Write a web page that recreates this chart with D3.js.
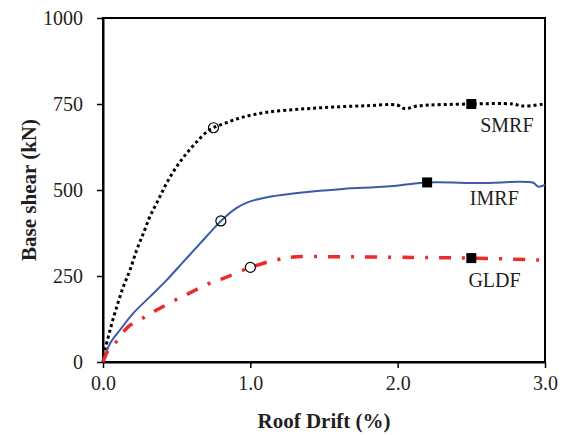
<!DOCTYPE html>
<html>
<head>
<meta charset="utf-8">
<script src="https://cdn.jsdelivr.net/npm/d3@7"></script>
<style>
    body { margin: 0; background: #fff; }
    svg text { font-family: 'Liberation Serif', 'Times New Roman', serif !important; fill: #231f20; }
</style>
</head>
<body>
<script>
// Pushover curves: roof drift (%) vs base shear (kN)
const smrfDrift = [0, 0.014, 0.048, 0.093, 0.138, 0.183, 0.229, 0.274, 0.319, 0.375, 0.432, 0.5, 0.568, 0.636, 0.704, 0.75, 0.84, 0.95, 1.113, 1.337, 1.561, 1.792, 1.996, 2.05, 2.13, 2.5, 2.78, 2.85, 3.0];
const smrfShear = [0, 35, 93, 160, 219, 267, 326, 374, 423, 471, 520, 568, 607, 640, 669, 681, 696, 712, 726, 735, 741, 745, 747, 736, 744, 750, 750, 744, 750];

const imrfDrift = [0, 0.048, 0.115, 0.206, 0.319, 0.432, 0.545, 0.658, 0.749, 0.8, 0.9, 0.98, 1.06, 1.14, 1.337, 1.629, 1.926, 2.2, 2.56, 2.92, 2.953, 3.0];
const imrfShear = [0, 54, 93, 142, 190, 238, 291, 344, 387, 410, 446, 464, 474, 481, 492, 503, 510, 522, 520, 521, 510, 515];

const gldfDrift = [0, 0.036, 0.081, 0.172, 0.269, 0.364, 0.482, 0.59, 0.708, 0.817, 1.0, 1.179, 1.315, 1.561, 2.105, 2.5, 2.93, 2.97];
const gldfShear = [0, 35, 54, 103, 127, 151, 178, 201, 226, 243, 275, 297, 306, 306, 304, 302, 297, 296];

// Yield points (circles) and ultimate points (squares)
const seriesNames = ['SMRF', 'IMRF', 'GLDF'];
const yieldDrift = [0.75, 0.8, 1.0];
const yieldShear = [681, 410, 275];
const ultDrift = [2.5, 2.2, 2.5];
const ultShear = [750, 522, 302];

const xTicks = [0, 1, 2, 3];
const yTicks = [0, 250, 500, 750, 1000];

const width = 569;
const height = 435;
const margin = { top: 18, right: 24, bottom: 73, left: 103 };
const plotW = width - margin.left - margin.right;
const plotH = height - margin.top - margin.bottom;

const xScale = d3.scaleLinear().domain([0, 3]).range([0, plotW]);
const yScale = d3.scaleLinear().domain([0, 1000]).range([plotH, 0]);

const svg = d3
    .select('body')
    .append('svg')
    .attr('width', width)
    .attr('height', height);

const g = svg.append('g').attr('transform', `translate(${margin.left}, ${margin.top})`);

// Set y-axis
const yAxis = g
    .append('g')
    .call(d3.axisLeft(yScale).tickValues(yTicks).tickSize(6).tickSizeOuter(0).tickPadding(14).tickFormat(d3.format('d')));

// Set x-axis
const xAxis = g
    .append('g')
    .attr('transform', `translate(0, ${plotH})`)
    .call(d3.axisBottom(xScale).tickValues(xTicks).tickSize(6).tickSizeOuter(0).tickPadding(8).tickFormat(d3.format('.1f')));

[xAxis, yAxis].forEach(ax => {
    ax.attr('font-family', null);
    ax.select('.domain').attr('stroke', '#000').attr('stroke-width', 2);
    ax.selectAll('.tick line').attr('stroke', '#000').attr('stroke-width', 1.5);
    ax.selectAll('.tick text').style('font-size', '20px').attr('fill', '#231f20');
});

// Plot frame
g
    .append('rect')
    .attr('x', 0)
    .attr('y', 0)
    .attr('width', plotW)
    .attr('height', plotH)
    .attr('fill', 'none')
    .attr('stroke', '#000')
    .attr('stroke-width', 2);

// Define curves
const line = d3
    .line()
    .x(d => xScale(d[0]))
    .y(d => yScale(d[1]))
    .curve(d3.curveCatmullRom.alpha(0.5));

const curves = [
    { drift: smrfDrift, shear: smrfShear, color: '#000', w: 3, dash: '3,3' },
    { drift: imrfDrift, shear: imrfShear, color: '#3a5ba8', w: 2, dash: null },
    { drift: gldfDrift, shear: gldfShear, color: '#ee2a2a', w: 3.5, dash: '12,11,3,11' }
];

curves.forEach(c => {
    g
        .append('path')
        .datum(c.drift.map((x, i) => [x, c.shear[i]]))
        .attr('d', line)
        .attr('fill', 'none')
        .attr('stroke', c.color)
        .attr('stroke-width', c.w)
        .attr('stroke-dasharray', c.dash);
});

// Yield circles
g
    .selectAll('circle.yield')
    .data(yieldDrift)
    .enter()
    .append('circle')
    .attr('cx', d => xScale(d))
    .attr('cy', (d, i) => yScale(yieldShear[i]))
    .attr('r', 5)
    .attr('fill', 'none')
    .attr('stroke', '#000')
    .attr('stroke-width', 1.2);

// Ultimate squares
g
    .selectAll('rect.ult')
    .data(ultDrift)
    .enter()
    .append('rect')
    .attr('x', d => xScale(d) - 5)
    .attr('y', (d, i) => yScale(ultShear[i]) - 5)
    .attr('width', 10)
    .attr('height', 10)
    .attr('fill', '#000');

// Series labels
const labelX = [2.56, 2.49, 2.48];
const labelY = [668, 456, 219];
g
    .selectAll('text.label')
    .data(seriesNames)
    .enter()
    .append('text')
    .attr('x', (d, i) => xScale(labelX[i]))
    .attr('y', (d, i) => yScale(labelY[i]))
    .style('font-size', '20px')
    .text(d => d);

// Axis titles
svg
    .append('text')
    .attr('x', margin.left + plotW / 2)
    .attr('y', 428)
    .attr('text-anchor', 'middle')
    .style('font-size', '21px')
    .style('font-weight', 'bold')
    .text('Roof Drift (%)');

svg
    .append('text')
    .attr('transform', `translate(36, ${margin.top + plotH / 2}) rotate(-90)`)
    .attr('text-anchor', 'middle')
    .style('font-size', '21px')
    .style('font-weight', 'bold')
    .text('Base shear (kN)');
</script>
</body>
</html>
